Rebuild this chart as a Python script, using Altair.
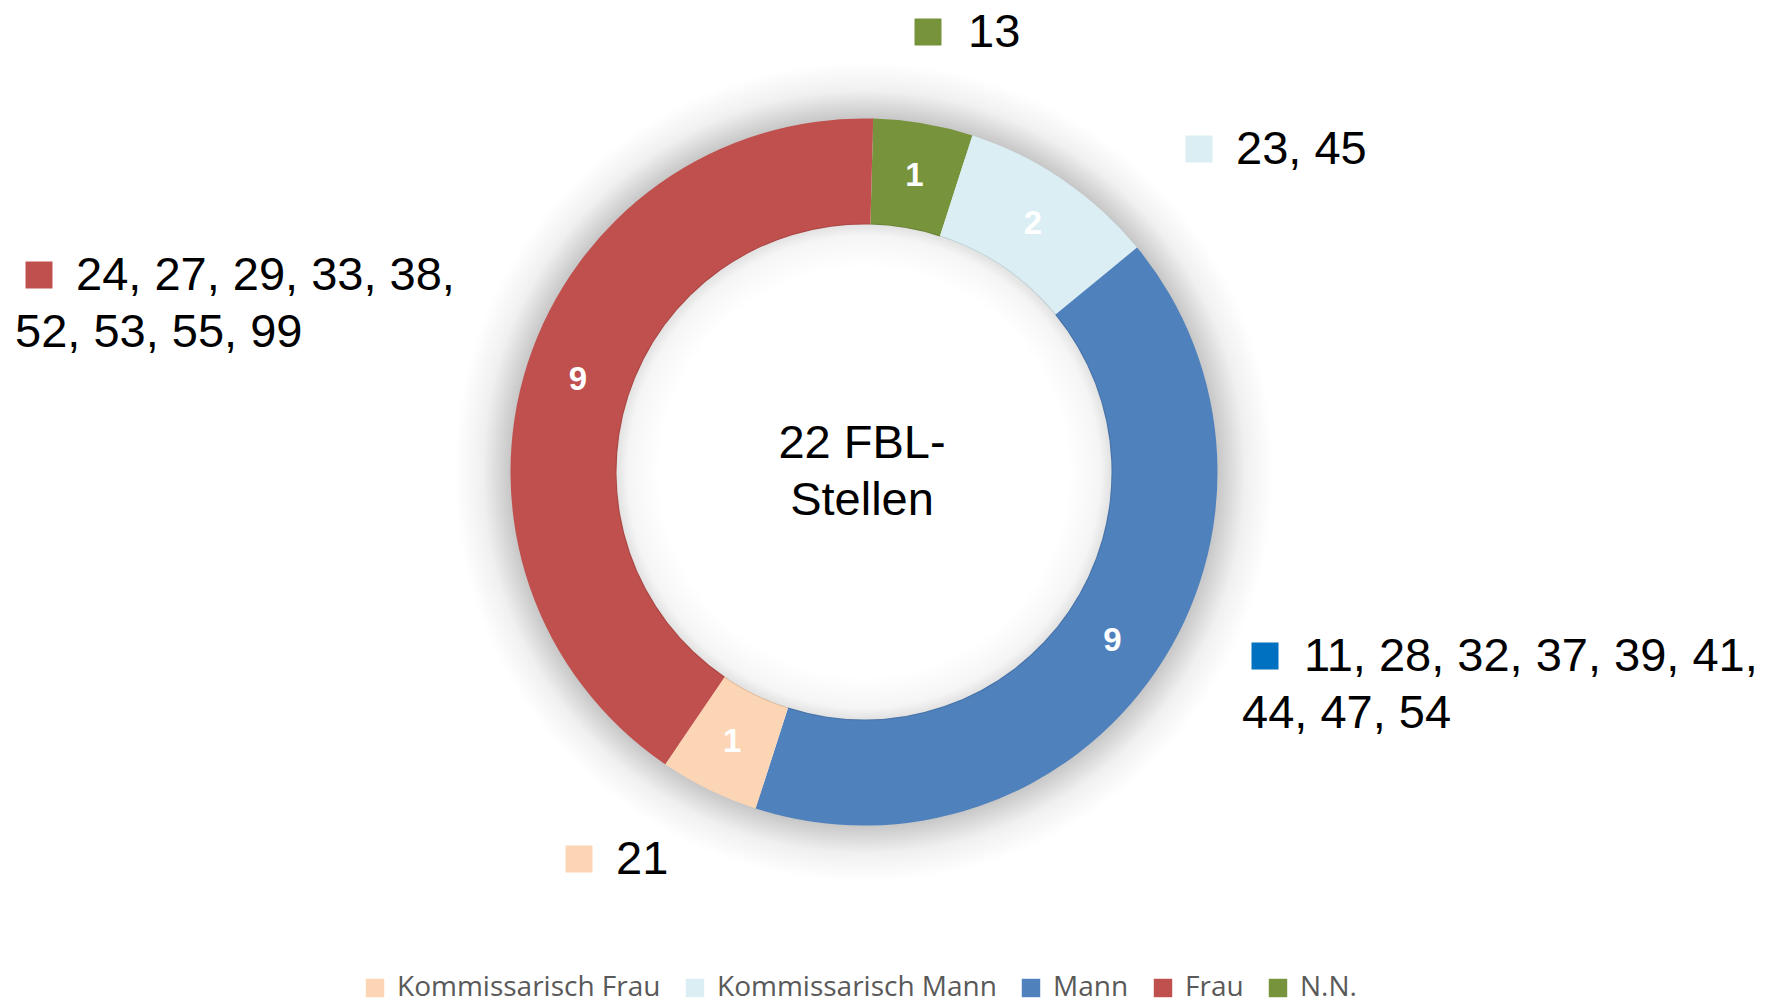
import altair as alt
import pandas as pd

# ---- data ----
categories = ["N.N.", "Kommissarisch Mann", "Mann", "Kommissarisch Frau", "Frau"]
counts = [1, 2, 9, 1, 9]
legend_order = ["Kommissarisch Frau", "Kommissarisch Mann", "Mann", "Frau", "N.N."]
legend_colors = ["#FCD5B5", "#DAEEF3", "#4F81BD", "#C0504D", "#77933C"]

callout_lines = [
    ["13"],
    ["23, 45"],
    ["24, 27, 29, 33, 38,", "52, 53, 55, 99"],
    ["11, 28, 32, 37, 39, 41,", "44, 47, 54"],
    ["21"],
]
callout_colors = ["#77933C", "#DAEEF3", "#C0504D", "#0070C0", "#FCD5B5"]
center_lines = ["22 FBL-", "Stellen"]

# ---- layout (pixels) ----
W, H = 1778, 1000
CX, CY = 864, 472
R_OUT, R_IN = 353.5, 247.5
ROT = 0.026  # small clockwise start offset of the ring (radians)
# square centre, first-line text x, later-lines text x, first baseline
callout_layout = [
    (928, 32, 968, None, 47),
    (1199, 149, 1236, None, 164),
    (39, 275, 76, 15, 290),
    (1265, 656, 1304, 1242, 671),
    (579, 859, 616, None, 874),
]
LINE_H = 57

donut_df = pd.DataFrame({"cat": categories, "count": counts, "order": list(range(len(categories)))})

sq_rows, txt_rows = [], []
for lines, col, (sx, sy, tx, tx2, by) in zip(callout_lines, callout_colors, callout_layout):
    sq_rows.append({"x": sx, "y": sy, "c": col})
    for i, t in enumerate(lines):
        txt_rows.append({"x": tx if i == 0 else tx2, "y": by + i * LINE_H, "t": t})
sq_df = pd.DataFrame(sq_rows)
txt_df = pd.DataFrame(txt_rows)
center_df = pd.DataFrame({"t": center_lines, "x": [CX - 2, CX - 2], "y": [458, 515]})

base_pos = dict(x=alt.value(CX), y=alt.value(CY))
theta_enc = alt.Theta("count:Q", stack=True, scale=alt.Scale(range=[ROT, 6.28319 + ROT]))

# soft outer shadow
outer_shadow = alt.Chart(pd.DataFrame({"a": [0]})).mark_arc(
    theta=0, theta2=6.2832, outerRadius=410, innerRadius=330,
    fill=alt.RadialGradient(
        gradient="radial", x1=0.5, y1=0.5, r1=0, x2=0.5, y2=0.5, r2=0.5,
        stops=[
            alt.GradientStop(offset=0.0, color="rgba(0,0,0,0.24)"),
            alt.GradientStop(offset=0.862, color="rgba(0,0,0,0.22)"),
            alt.GradientStop(offset=0.93, color="rgba(0,0,0,0.06)"),
            alt.GradientStop(offset=1.0, color="rgba(0,0,0,0)"),
        ],
    ),
).encode(**base_pos)

# inner shadow in the hole
inner_shadow = alt.Chart(pd.DataFrame({"a": [0]})).mark_arc(
    theta=0, theta2=6.2832, outerRadius=R_IN + 1, innerRadius=0,
    fill=alt.RadialGradient(
        gradient="radial", x1=0.5, y1=0.5, r1=0, x2=0.5, y2=0.5, r2=0.5,
        stops=[
            alt.GradientStop(offset=0.0, color="rgba(0,0,0,0)"),
            alt.GradientStop(offset=0.82, color="rgba(0,0,0,0)"),
            alt.GradientStop(offset=0.95, color="rgba(0,0,0,0.04)"),
            alt.GradientStop(offset=1.0, color="rgba(0,0,0,0.12)"),
        ],
    ),
).encode(**base_pos)

donut = alt.Chart(donut_df).mark_arc(outerRadius=R_OUT, innerRadius=R_IN).encode(
    theta=theta_enc,
    order=alt.Order("order:Q"),
    color=alt.Color(
        "cat:N",
        scale=alt.Scale(domain=legend_order, range=legend_colors),
        legend=alt.Legend(
            title=None, orient="none", direction="horizontal",
            legendX=361, legendY=974,
            symbolType="square", symbolSize=340, symbolStrokeWidth=0,
            symbolOpacity=1, labelLimit=0,
            labelFont="Open Sans", labelFontSize=28, labelColor="#595959",
            labelOffset=8, columnPadding=20, padding=0,
        ),
    ),
    **base_pos,
)

slice_labels = alt.Chart(donut_df).mark_text(
    radius=(R_OUT + R_IN) / 2, font="Liberation Sans", fontWeight="bold",
    fontSize=33, color="white", align="center", baseline="middle",
).encode(
    theta=theta_enc,
    order=alt.Order("order:Q"),
    text="count:Q",
    **base_pos,
)

center_text = alt.Chart(center_df).mark_text(
    font="Liberation Sans", fontSize=47, color="black", align="center", baseline="alphabetic",
).encode(
    x=alt.X("x:Q", scale=None), y=alt.Y("y:Q", scale=None), text="t:N"
)

callout_sq = alt.Chart(sq_df).mark_square(size=729, opacity=1).encode(
    x=alt.X("x:Q", scale=None), y=alt.Y("y:Q", scale=None),
    fill=alt.Fill("c:N", scale=None),
)

callout_txt = alt.Chart(txt_df).mark_text(
    font="Liberation Sans", fontSize=47, color="black", align="left", baseline="alphabetic",
).encode(
    x=alt.X("x:Q", scale=None), y=alt.Y("y:Q", scale=None), text="t:N"
)

chart = alt.layer(
    outer_shadow, donut, inner_shadow, slice_labels, center_text, callout_sq, callout_txt
).properties(
    width=W, height=H, padding=0, autosize=alt.AutoSizeParams(type="none"),
    background="white",
).configure_view(stroke=None)

chart.save("out.html", embed_options={"renderer": "svg", "actions": False})
